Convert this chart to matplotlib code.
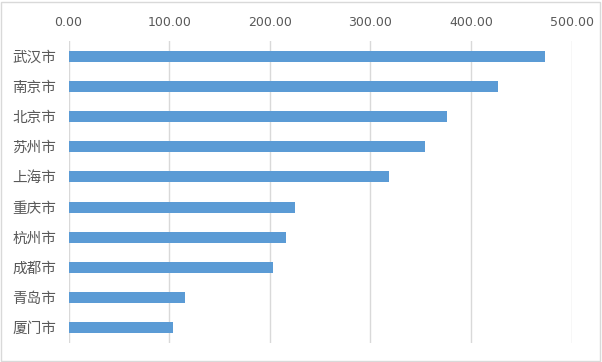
import matplotlib
matplotlib.use("Agg")
import matplotlib.pyplot as plt
from matplotlib.patches import Rectangle

plt.rcParams['font.family'] = ['Noto Sans CJK SC', 'DejaVu Sans']

cities = ["武汉市", "南京市", "北京市", "苏州市", "上海市", "重庆市", "杭州市", "成都市", "青岛市", "厦门市"]
values = [473.5, 426.8, 376.1, 354.2, 318.5, 225.0, 216.0, 203.2, 115.8, 103.8]
xticks = [0, 100, 200, 300, 400, 500]
xtick_labels = ["0.00", "100.00", "200.00", "300.00", "400.00", "500.00"]

fig = plt.figure(figsize=(6.02, 3.62), dpi=100)
ax = fig.add_axes([68.5/602, 1-343/362, (571.7-68.5)/602, (343-41)/362])

ypos = list(range(len(cities)))
ax.barh(ypos, values, height=0.365, color="#5b9bd5", zorder=3)
ax.set_ylim(len(cities)-0.5, -0.5)
ax.set_xlim(0, 500)
ax.set_yticks(ypos)
ax.set_yticklabels(cities, fontsize=10.5, color="#595959")
ax.set_xticks(xticks)
ax.set_xticklabels(xtick_labels, fontsize=9, color="#595959", family=['DejaVu Sans'])
ax.xaxis.tick_top()
ax.tick_params(axis='both', length=0)
ax.tick_params(axis='x', pad=9)
ax.tick_params(axis='y', pad=9)
ax.grid(axis='x', color="#d9d9d9", linewidth=1, zorder=0)
for s in ax.spines.values():
    s.set_visible(False)

fig.patches.append(Rectangle((1/602, 1/362), 599/602, 359/362, transform=fig.transFigure,
                             fill=False, edgecolor="#d9d9d9", linewidth=1))

fig.savefig("out.png", dpi=100)
